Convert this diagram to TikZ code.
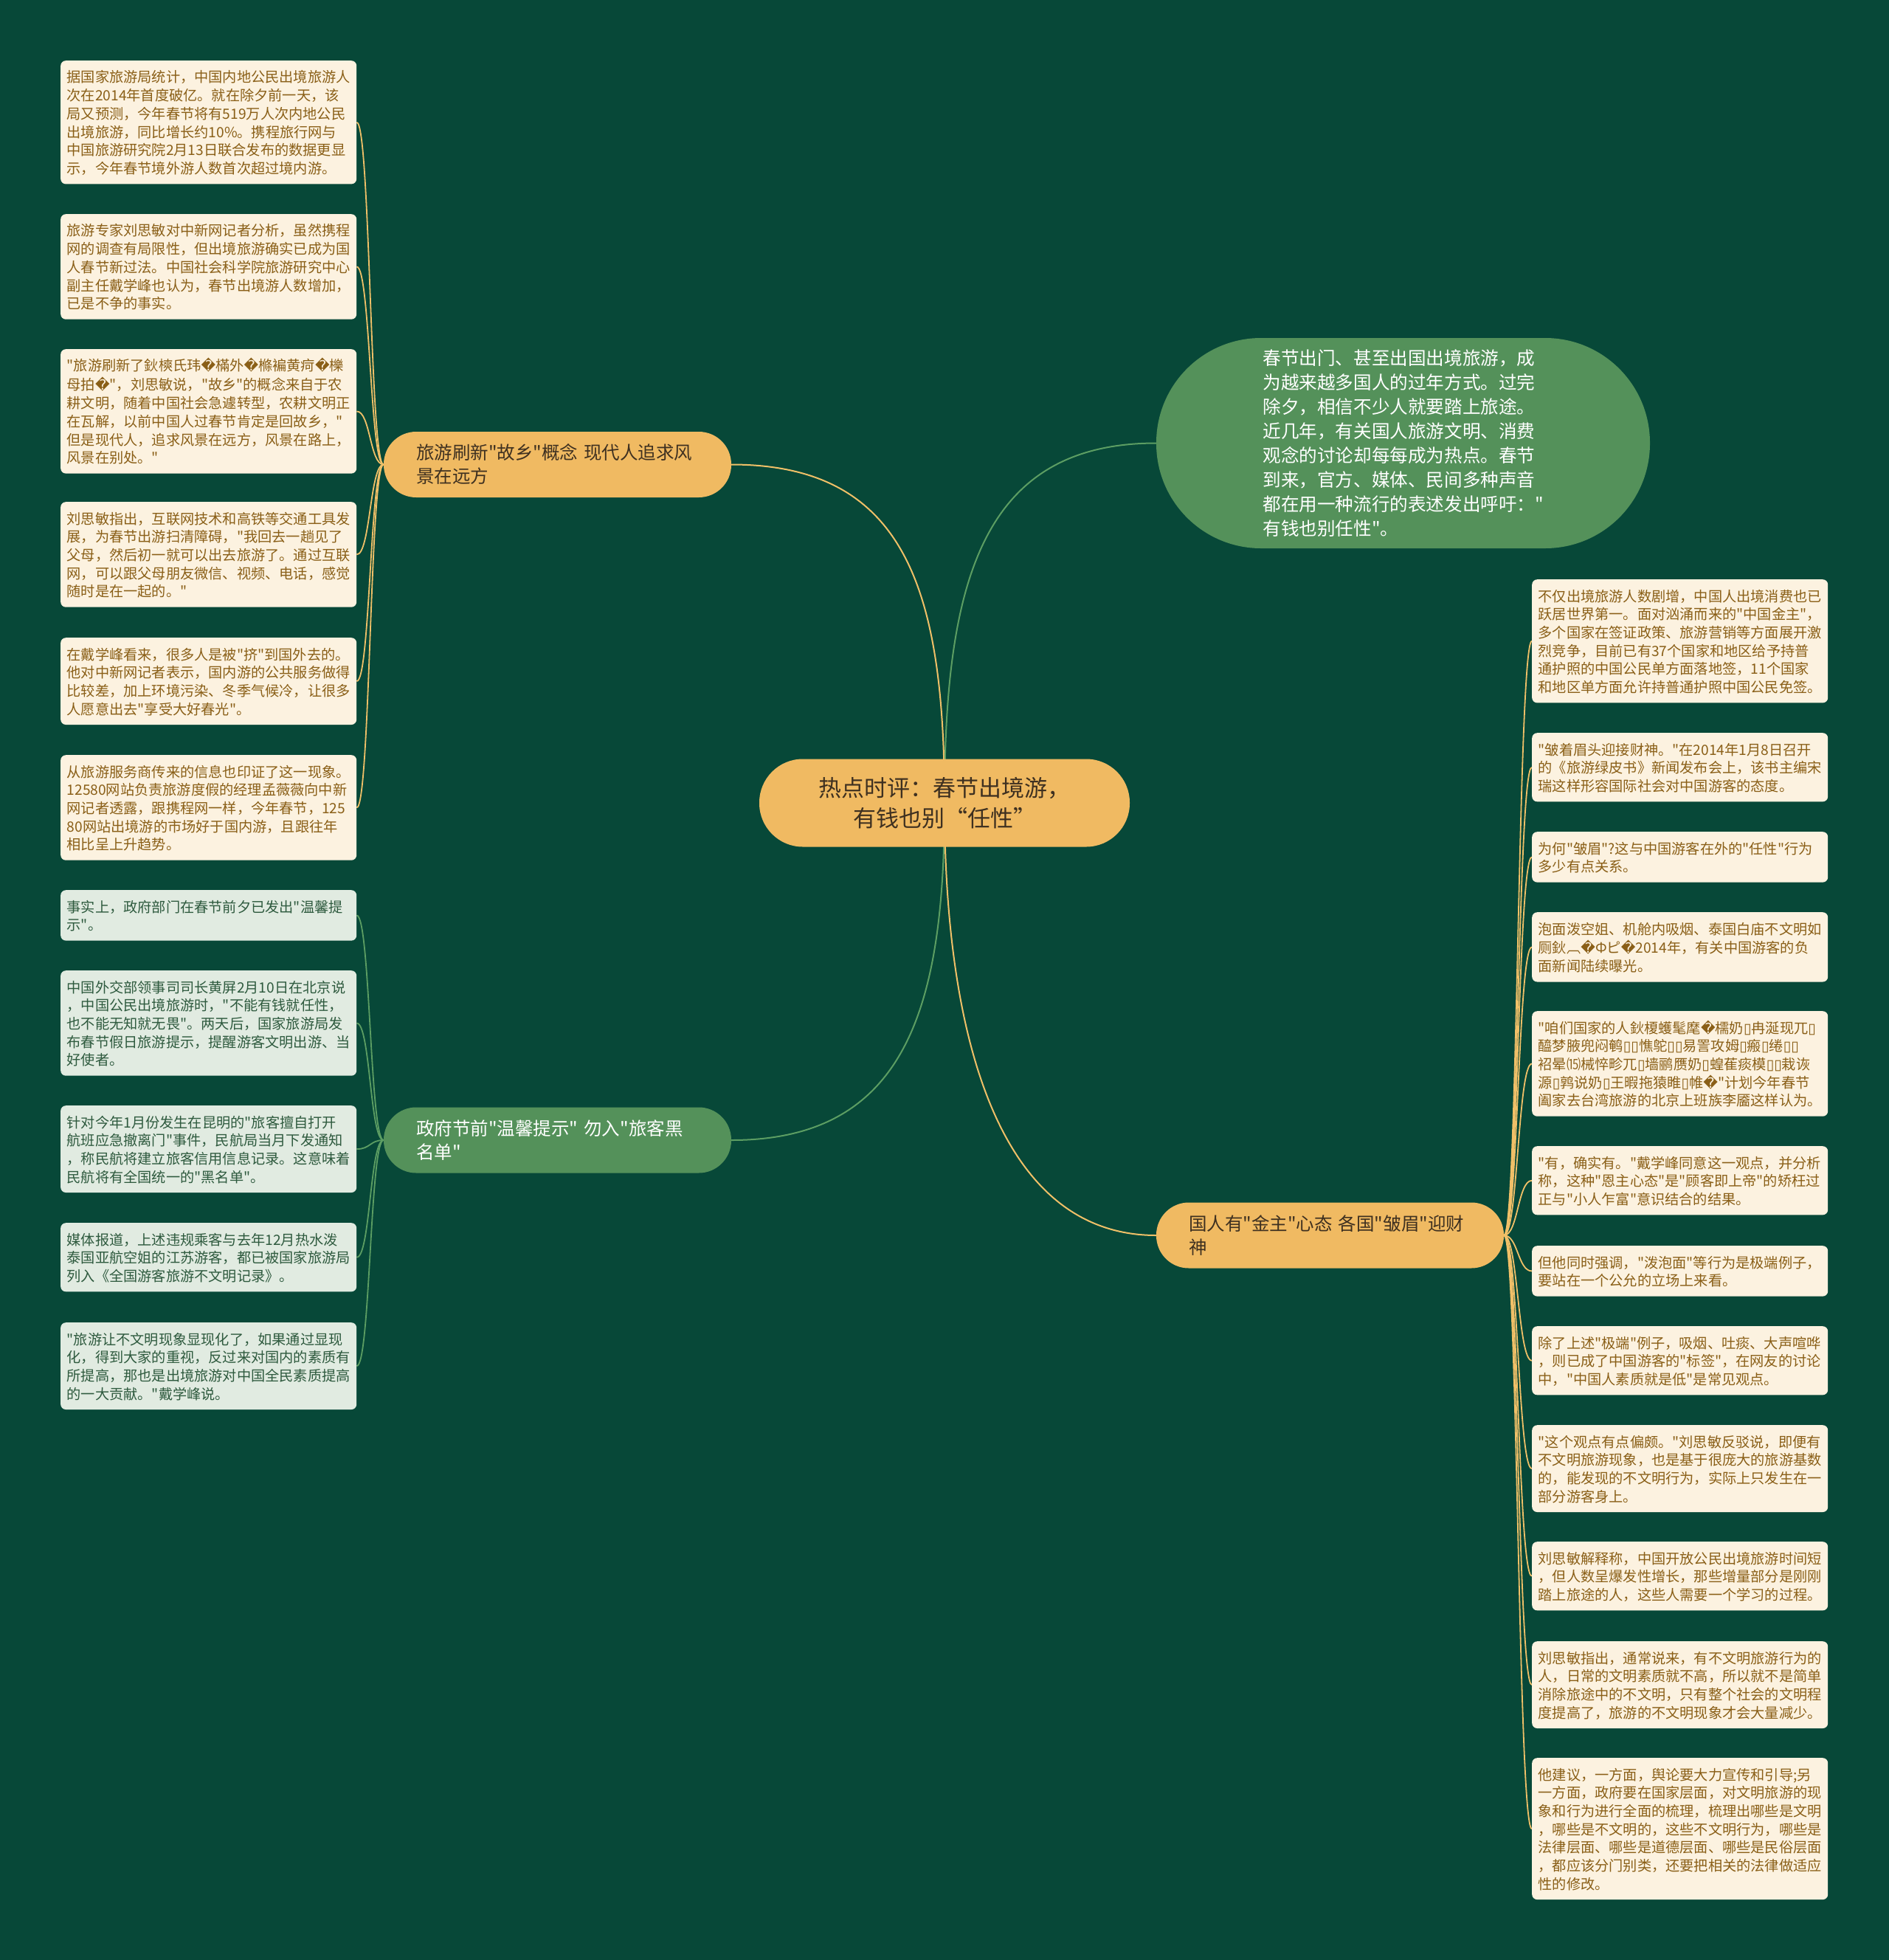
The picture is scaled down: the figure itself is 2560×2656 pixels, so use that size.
\documentclass[tikz,border=0pt]{standalone}
\usepackage{fontspec}
\newfontfamily\cjk{Noto Sans CJK SC}
\newfontfamily\dvs{DejaVu Sans}
\usetikzlibrary{backgrounds}
\newcommand\qd{{\dvs\char"FFFD}}
\newcommand\bx{{\dvs\char"25AF}}
\definecolor{bgc}{HTML}{074838}
\definecolor{orgfill}{HTML}{F0BA62}
\definecolor{grnfill}{HTML}{54915A}
\definecolor{orgline}{HTML}{F0C068}
\definecolor{grnline}{HTML}{5C9E63}
\definecolor{cream}{HTML}{FCF2E0}
\definecolor{pale}{HTML}{E1EBE1}
\definecolor{btxt}{HTML}{8A5F17}
\definecolor{gtxt}{HTML}{2E5A3E}
\definecolor{dtxt}{HTML}{3E3020}
\newcommand\leaffont{\cjk\fontsize{19.2bp}{24.7bp}\selectfont}
\newcommand\brfont{\cjk\fontsize{24.5bp}{32bp}\selectfont}
\newcommand\ovfont{\cjk\fontsize{24.6bp}{33bp}\selectfont}
\newcommand\cfont{\cjk\fontsize{31bp}{41bp}\selectfont}
\newcommand\leafbeg{\rule[-7.41bp]{0pt}{27.7bp}}
\newcommand\leafend{\rule[-4.41bp]{0pt}{21.7bp}}
\newcommand\brbeg{\rule[-9.6bp]{0pt}{35bp}}
\newcommand\brend{\rule[-6.6bp]{0pt}{29bp}}
\tikzset{
  leafbase/.style={rounded corners=7bp, text width=384bp, inner xsep=8.5bp, inner ysep=9.5bp,
    align=left, anchor=north west, font=\leaffont,
    execute at begin node=\leafbeg, execute at end node=\leafend},
  leafo/.style={leafbase, fill=cream, text=btxt},
  leafg/.style={leafbase, fill=pale, text=gtxt},
  branchbox/.style={rounded corners=44bp, minimum width=471bp, minimum height=89bp,
    text width=383bp, inner xsep=44bp, inner ysep=0bp, align=left, font=\brfont,
    execute at begin node=\brbeg, execute at end node=\brend},
  mainline/.style={line width=2bp},
  leafline/.style={line width=1.8bp},
}
\begin{document}
\begin{tikzpicture}[x=1bp,y=-1bp]
\useasboundingbox (0,0) rectangle (2560,2656);

% center
\node[fill=orgfill, rounded corners=59bp, minimum width=502bp, minimum height=119bp,
  align=center, font=\cfont, text=dtxt, inner sep=0bp] (c) at (1280,1088)
  {热点时评：春节出境游，\\有钱也别“任性”};

% oval
\node[fill=grnfill, rounded corners=142bp, minimum width=669bp, minimum height=285bp,
  text width=380bp, align=left, font=\ovfont, text=white, inner sep=0bp] (o) at (1901.5,600.5)
  {春节出门、甚至出国出境旅游，成\\为越来越多国人的过年方式。过完\\除夕，相信不少人就要踏上旅途。\\近几年，有关国人旅游文明、消费\\观念的讨论却每每成为热点。春节\\到来，官方、媒体、民间多种声音\\都在用一种流行的表述发出呼吁："\\有钱也别任性"。};

% branches
\node[branchbox, fill=orgfill, text=dtxt] (b1) at (755.5,629.5)
  {旅游刷新"故乡"概念 现代人追求风\\景在远方};
\node[branchbox, fill=grnfill, text=white] (b2) at (755.5,1545)
  {政府节前"温馨提示" 勿入"旅客黑\\名单"};
\node[branchbox, fill=orgfill, text=dtxt] (b3) at (1802.5,1674)
  {国人有"金主"心态 各国"皱眉"迎财\\神};

% left leaves (orange)
\node[leafo] (l1) at (82,82) {据国家旅游局统计，中国内地公民出境旅游人\\次在2014年首度破亿。就在除夕前一天，该\\局又预测，今年春节将有519万人次内地公民\\出境旅游，同比增长约10\%。携程旅行网与\\中国旅游研究院2月13日联合发布的数据更显\\示，今年春节境外游人数首次超过境内游。};
\node[leafo] (l2) at (82,290) {旅游专家刘思敏对中新网记者分析，虽然携程\\网的调查有局限性，但出境旅游确实已成为国\\人春节新过法。中国社会科学院旅游研究中心\\副主任戴学峰也认为，春节出境游人数增加，\\已是不争的事实。};
\node[leafo] (l3) at (82,473) {"旅游刷新了鈥樉氏玮\qd 樠外\qd 樤褊黄疴\qd 櫟\\母拍\qd"，刘思敏说，"故乡"的概念来自于农\\耕文明，随着中国社会急遽转型，农耕文明正\\在瓦解，以前中国人过春节肯定是回故乡，"\\但是现代人，追求风景在远方，风景在路上，\\风景在别处。"};
\node[leafo] (l4) at (82,680) {刘思敏指出，互联网技术和高铁等交通工具发\\展，为春节出游扫清障碍，"我回去一趟见了\\父母，然后初一就可以出去旅游了。通过互联\\网，可以跟父母朋友微信、视频、电话，感觉\\随时是在一起的。"};
\node[leafo] (l5) at (82,864) {在戴学峰看来，很多人是被"挤"到国外去的。\\他对中新网记者表示，国内游的公共服务做得\\比较差，加上环境污染、冬季气候冷，让很多\\人愿意出去"享受大好春光"。};
\node[leafo] (l6) at (82,1023) {从旅游服务商传来的信息也印证了这一现象。\\12580网站负责旅游度假的经理孟薇薇向中新\\网记者透露，跟携程网一样，今年春节，125\\80网站出境游的市场好于国内游，且跟往年\\相比呈上升趋势。};

% left leaves (green)
\node[leafg] (g1) at (82,1206) {事实上，政府部门在春节前夕已发出"温馨提\\示"。};
\node[leafg] (g2) at (82,1315) {中国外交部领事司司长黄屏2月10日在北京说\\，中国公民出境旅游时，"不能有钱就任性，\\也不能无知就无畏"。两天后，国家旅游局发\\布春节假日旅游提示，提醒游客文明出游、当\\好使者。};
\node[leafg] (g3) at (82,1498) {针对今年1月份发生在昆明的"旅客擅自打开\\航班应急撤离门"事件，民航局当月下发通知\\，称民航将建立旅客信用信息记录。这意味着\\民航将有全国统一的"黑名单"。};
\node[leafg] (g4) at (82,1657) {媒体报道，上述违规乘客与去年12月热水泼\\泰国亚航空姐的江苏游客，都已被国家旅游局\\列入《全国游客旅游不文明记录》。};
\node[leafg] (g5) at (82,1792) {"旅游让不文明现象显现化了，如果通过显现\\化，得到大家的重视，反过来对国内的素质有\\所提高，那也是出境旅游对中国全民素质提高\\的一大贡献。"戴学峰说。};

% right leaves
\node[leafo] (r1) at (2076,785) {不仅出境旅游人数剧增，中国人出境消费也已\\跃居世界第一。面对汹涌而来的"中国金主"，\\多个国家在签证政策、旅游营销等方面展开激\\烈竞争，目前已有37个国家和地区给予持普\\通护照的中国公民单方面落地签，11个国家\\和地区单方面允许持普通护照中国公民免签。};
\node[leafo] (r2) at (2076,993) {"皱着眉头迎接财神。"在2014年1月8日召开\\的《旅游绿皮书》新闻发布会上，该书主编宋\\瑞这样形容国际社会对中国游客的态度。};
\node[leafo] (r3) at (2076,1127) {为何"皱眉"?这与中国游客在外的"任性"行为\\多少有点关系。};
\node[leafo] (r4) at (2076,1236) {泡面泼空姐、机舱内吸烟、泰国白庙不文明如\\厕鈥︹\qd Фピ\qd 2014年，有关中国游客的负\\面新闻陆续曝光。};
\node[leafo] (r5) at (2076,1370) {"咱们国家的人鈥榎蠖髦麾\qd 檽奶\bx 冉涎现兀\bx\\醯梦腋兜闷鹌\bx\bx 憔鸵\bx\bx 易詈攻姆\bx 瘢\bx 绻\bx\bx\\袑晕⒂械悴畛兀\bx 墙鹂赝奶\bx 蝗萑痰模\bx\bx 栽诙\\源\bx 鹑说奶\bx 王暇拖猿睢\bx 帷\qd"计划今年春节\\阖家去台湾旅游的北京上班族李靥这样认为。};
\node[leafo] (r6) at (2076,1553) {"有，确实有。"戴学峰同意这一观点，并分析\\称，这种"恩主心态"是"顾客即上帝"的矫枉过\\正与"小人乍富"意识结合的结果。};
\node[leafo] (r7) at (2076,1688) {但他同时强调，"泼泡面"等行为是极端例子，\\要站在一个公允的立场上来看。};
\node[leafo] (r8) at (2076,1797) {除了上述"极端"例子，吸烟、吐痰、大声喧哗\\，则已成了中国游客的"标签"，在网友的讨论\\中，"中国人素质就是低"是常见观点。};
\node[leafo] (r9) at (2076,1931) {"这个观点有点偏颇。"刘思敏反驳说，即便有\\不文明旅游现象，也是基于很庞大的旅游基数\\的，能发现的不文明行为，实际上只发生在一\\部分游客身上。};
\node[leafo] (r10) at (2076,2089) {刘思敏解释称，中国开放公民出境旅游时间短\\，但人数呈爆发性增长，那些增量部分是刚刚\\踏上旅途的人，这些人需要一个学习的过程。};
\node[leafo] (r11) at (2076,2224) {刘思敏指出，通常说来，有不文明旅游行为的\\人，日常的文明素质就不高，所以就不是简单\\消除旅途中的不文明，只有整个社会的文明程\\度提高了，旅游的不文明现象才会大量减少。};
\node[leafo] (r12) at (2076,2382) {他建议，一方面，舆论要大力宣传和引导;另\\一方面，政府要在国家层面，对文明旅游的现\\象和行为进行全面的梳理，梳理出哪些是文明\\，哪些是不文明的，这些不文明行为，哪些是\\法律层面、哪些是道德层面、哪些是民俗层面\\，都应该分门别类，还要把相关的法律做适应\\性的修改。};

\begin{scope}[on background layer]
\fill[bgc] (0,0) rectangle (2560,2656);
\draw[mainline, orgline] (c.center) .. controls +(0,-290) and +(235,0) .. (b1.east);
\draw[mainline, grnline] (c.center) .. controls +(0,280) and +(235,0) .. (b2.east);
\draw[mainline, grnline] (c.center) .. controls +(0,-298) and +(-237,0) .. (o.west);
\draw[mainline, orgline] (c.center) .. controls +(0,300) and +(-220,0) .. (b3.west);
\foreach \n in {l1,l2,l3,l4,l5,l6}
  \draw[leafline, orgline] (b1.west) .. controls +(-18.5,0) and +(18.5,0) .. (\n.east);
\foreach \n in {g1,g2,g3,g4,g5}
  \draw[leafline, grnline] (b2.west) .. controls +(-18.5,0) and +(18.5,0) .. (\n.east);
\foreach \n in {r1,r2,r3,r4,r5,r6,r7,r8,r9,r10,r11,r12}
  \draw[leafline, orgline] (b3.east) .. controls +(19,0) and +(-19,0) .. (\n.west);
\end{scope}
\end{tikzpicture}
\end{document}
